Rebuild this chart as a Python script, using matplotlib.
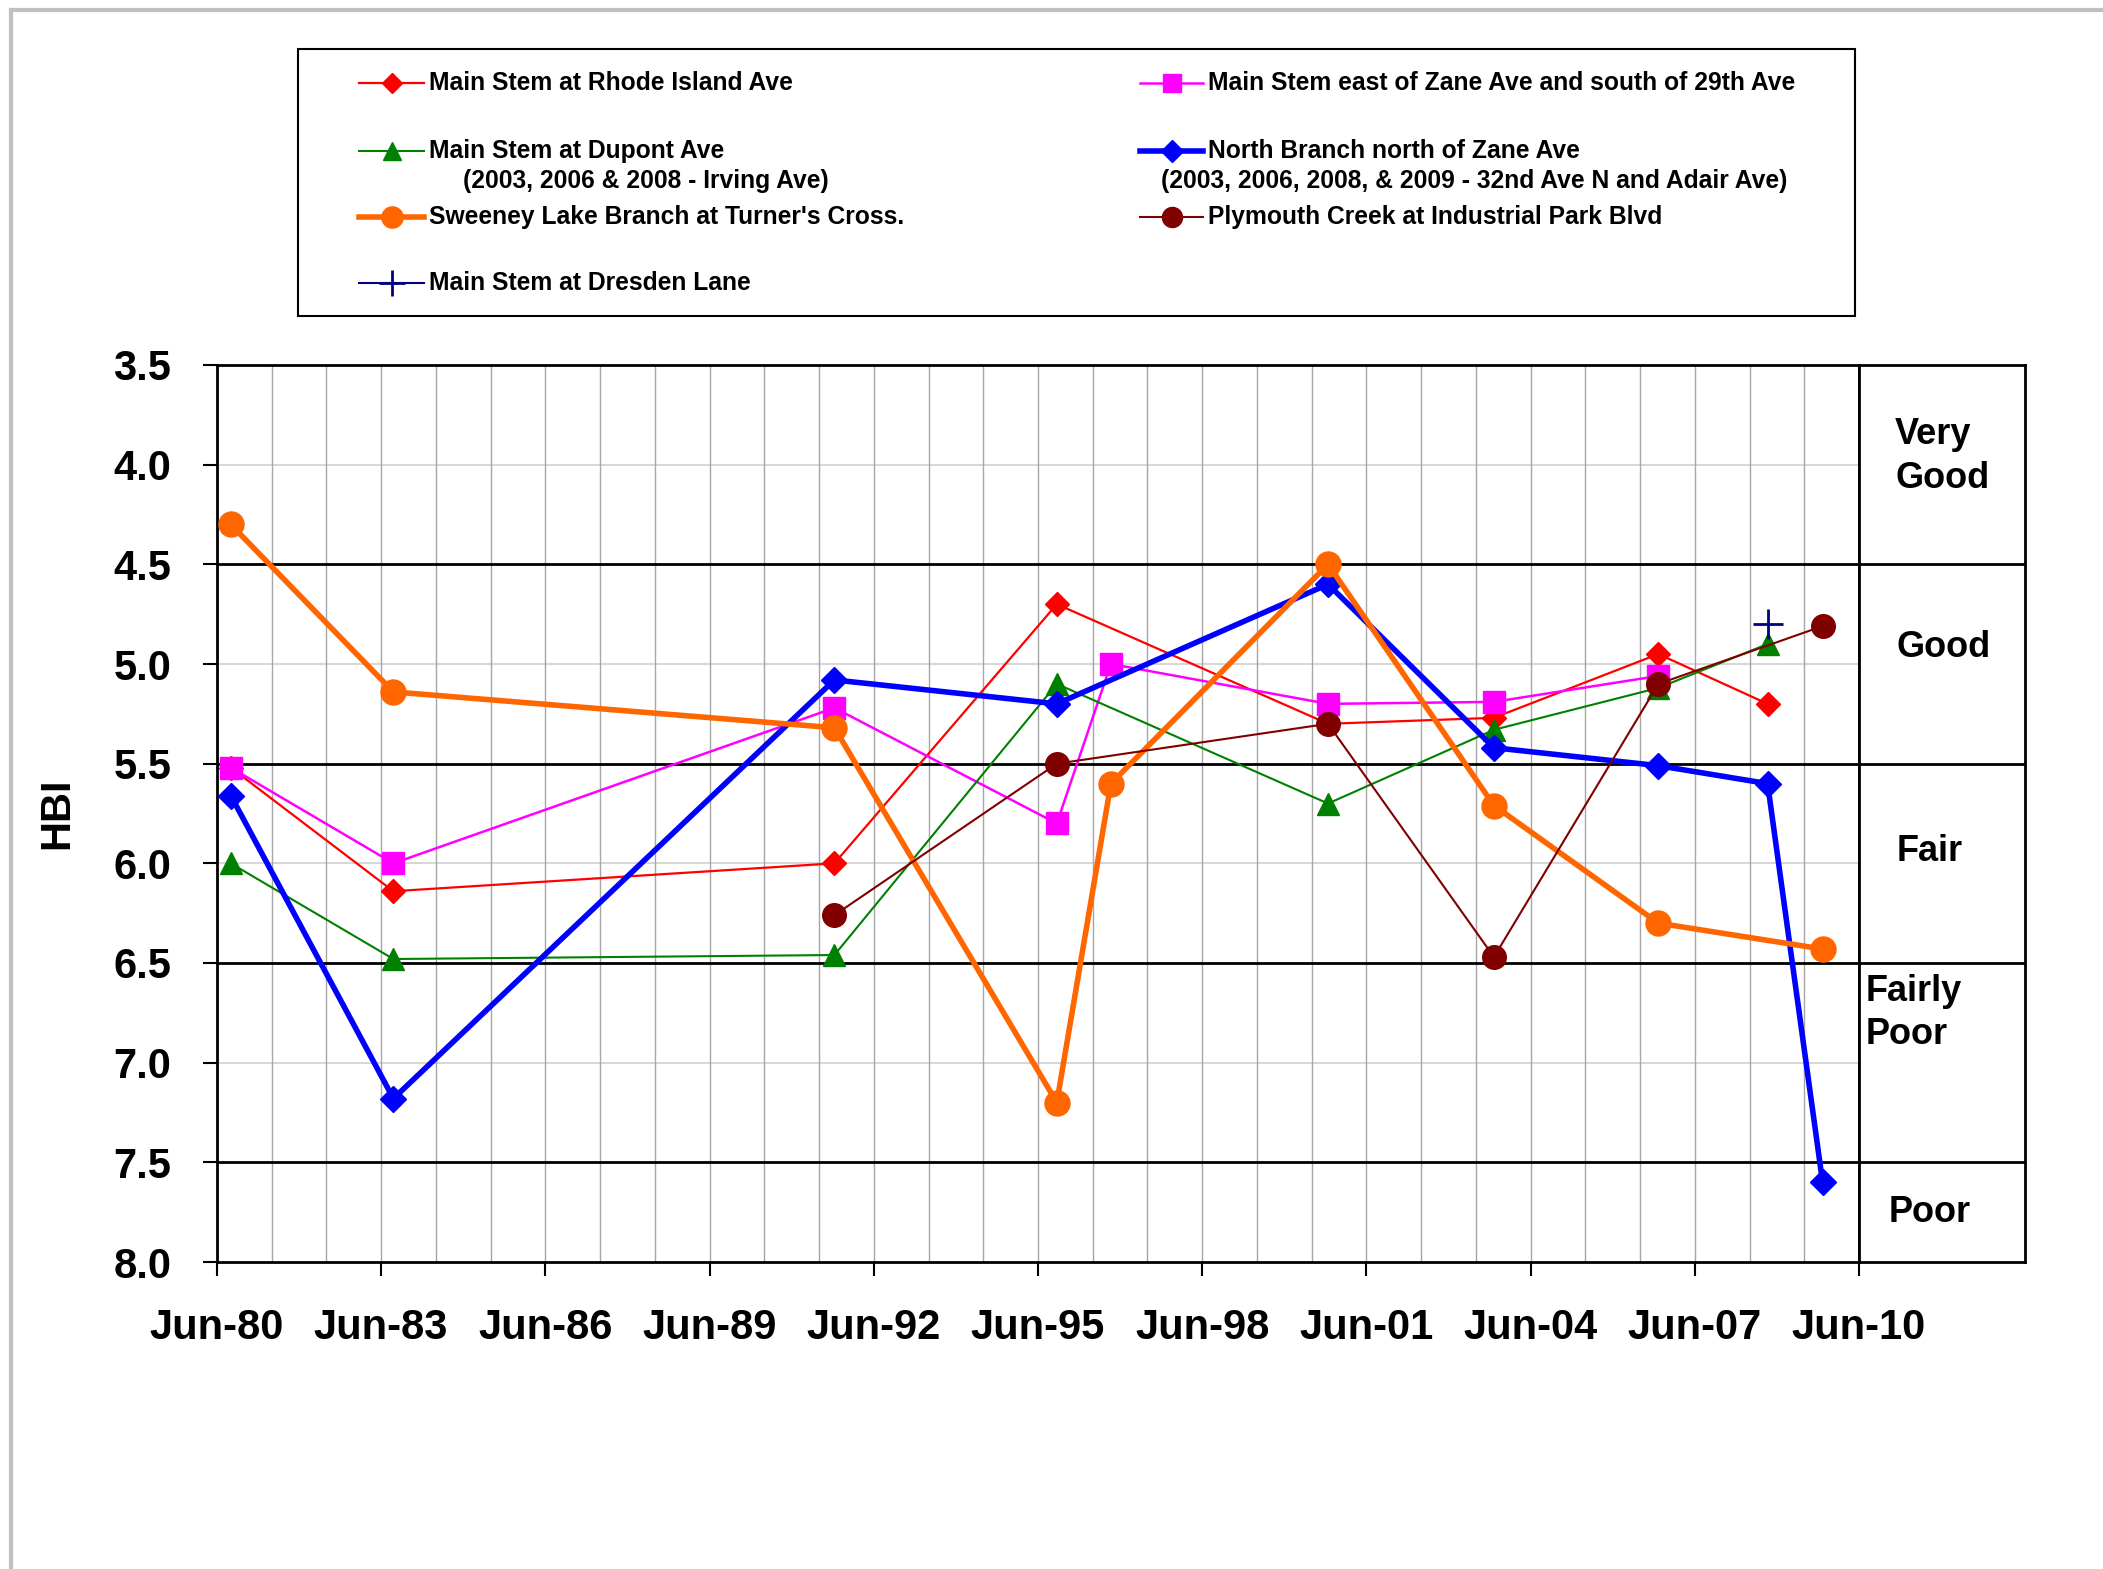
import matplotlib
matplotlib.use('Agg')
import matplotlib.pyplot as plt
import matplotlib.dates as mdates
import matplotlib.transforms as mtransforms
from matplotlib.lines import Line2D
from matplotlib.patches import Rectangle
from matplotlib.ticker import FormatStrFormatter, MultipleLocator
import pandas as pd

plt.rcParams['font.family'] = ['Liberation Sans', 'DejaVu Sans']
plt.rcParams['font.weight'] = 'bold'

# sampling dates (shared by all sites)
dates = pd.to_datetime(['1980-09-01', '1983-08-22', '1991-09-12', '1995-10-05', '1996-09-30',
                        '2000-09-18', '2003-09-30', '2006-10-01', '2008-09-29', '2009-10-01'])

# HBI values per site, None = not sampled that year
rhode_island = [5.52, 6.14, 6.00, 4.70, None, 5.30, 5.27, 4.95, 5.20, None]
zane_29th = [5.52, 6.00, 5.22, 5.80, 5.00, 5.20, 5.19, 5.06, None, None]
dupont = [6.00, 6.48, 6.46, 5.10, None, 5.70, 5.33, 5.12, 4.90, None]
north_branch = [5.66, 7.18, 5.08, 5.20, None, 4.60, 5.42, 5.51, 5.60, 7.60]
sweeney = [4.30, 5.14, 5.32, 7.20, 5.60, 4.50, 5.71, 6.30, None, 6.43]
plymouth = [None, None, 6.26, 5.50, None, 5.30, 6.47, 5.10, None, 4.81]
dresden = [None, None, None, None, None, None, None, None, 4.80, None]

series = [rhode_island, zane_29th, dupont, north_branch, sweeney, plymouth, dresden]
labels = ['Main Stem at Rhode Island Ave',
          'Main Stem east of Zane Ave and south of 29th Ave',
          'Main Stem at Dupont Ave',
          'North Branch north of Zane Ave',
          "Sweeney Lake Branch at Turner's Cross.",
          'Plymouth Creek at Industrial Park Blvd',
          'Main Stem at Dresden Lane']
sublabels = {2: '(2003, 2006 & 2008 - Irving Ave)',
             3: '(2003, 2006, 2008, & 2009 - 32nd Ave N and Adair Ave)'}

rating_lines = [4.5, 5.5, 6.5, 7.5]
gray_lines = [4.0, 5.0, 6.0, 7.0]
rating_names = ['Very\nGood', 'Good', 'Fair', 'Fairly\nPoor', 'Poor']
rating_y = [3.96, 4.915, 5.94, 6.75, 7.75]

# styles: color, marker, markersize, linewidth
styles = [('#FF0000', 'D', 12.5, 1.6),
          ('#FF00FF', 's', 16, 1.8),
          ('#008000', '^', 16, 1.5),
          ('#0000FF', 'D', 13, 4),
          ('#FF6600', 'o', 18, 4),
          ('#800000', 'o', 17, 1.5),
          ('#000080', '+', 22, 1.5)]

W, H = 2103, 1569
fig = plt.figure(figsize=(W / 100, H / 100), dpi=100)
bottom = 1 - 1262 / H
height = (1262 - 365) / H
ax = fig.add_axes([217 / W, bottom, (1859 - 217) / W, height])
rax = fig.add_axes([1859 / W, bottom, (2025 - 1859) / W, height], sharey=ax)

for vals, (c, m, ms, lw) in zip(series, styles):
    xs = [d for d, v in zip(dates, vals) if v is not None]
    ys = [v for v in vals if v is not None]
    ax.plot(xs, ys, color=c, lw=lw, marker=m, ms=ms, mfc=c, mec=c,
            mew=2 if m == '+' else 1, zorder=3)

ax.set_ylim(8.0, 3.5)
ax.set_xlim(pd.Timestamp('1980-06-01'), pd.Timestamp('2010-06-01'))
ax.yaxis.set_major_locator(MultipleLocator(0.5))
ax.yaxis.set_major_formatter(FormatStrFormatter('%.1f'))
ax.xaxis.set_major_locator(mdates.YearLocator(3, month=6, day=1))
ax.xaxis.set_minor_locator(mdates.YearLocator(1, month=6, day=1))
ax.xaxis.set_major_formatter(mdates.DateFormatter('%b-%y'))
ax.grid(True, which='both', axis='x', color='#A6A6A6', lw=1, zorder=0)
ax.tick_params(axis='x', which='minor', length=0)
ax.tick_params(axis='both', which='major', labelsize=30, length=10, width=1.5, pad=23)

for y in gray_lines:
    ax.axhline(y, color='#D0D0D0', lw=1.2, zorder=1)
for y in rating_lines:
    ax.axhline(y, color='black', lw=2, zorder=2)
    rax.axhline(y, color='black', lw=2)

for a in (ax, rax):
    for s in a.spines.values():
        s.set_linewidth(2)
        s.set_color('black')
rax.tick_params(left=False, labelleft=False, bottom=False, labelbottom=False)
rax.set_xlim(0, 1)

ax.set_ylabel('HBI', fontsize=30, fontweight='bold')
ax.yaxis.set_label_coords(-0.085, 0.5)

# rating band labels
tr = mtransforms.blended_transform_factory(rax.transAxes, rax.transData)
rating_x = [(0.217, 'left'), (0.512, 'center'), (0.428, 'center'), (0.042, 'left'), (0.428, 'center')]
for name, y, (x, ha) in zip(rating_names, rating_y, rating_x):
    rax.text(x, y, name, transform=tr, fontsize=26, fontweight='bold', ha=ha, va='center',
             linespacing=1.32)

# legend drawn in figure pixels
fig.add_artist(Rectangle((298 / W, 1 - 316 / H), (1855 - 298) / W, (316 - 49) / H,
                         transform=fig.transFigure, fill=False, ec='black', lw=1.5))
cols = [(359, 424, 429), (1140, 1203, 1208)]
rows = [83, 151, 217, 283]
order = [(0, 0, 0), (2, 0, 1), (4, 0, 2), (6, 0, 3), (1, 1, 0), (3, 1, 1), (5, 1, 2)]
for idx, ci, ri in order:
    c, m, ms, lw = styles[idx]
    x0, x1, xt = cols[ci]
    y = 1 - rows[ri] / H
    fig.add_artist(Line2D([x0 / W, (x0 + x1) / 2 / W, x1 / W], [y, y, y], transform=fig.transFigure,
                          color=c, lw=lw, marker=m, ms=ms * 0.85, mfc=c, mec=c, markevery=[1],
                          mew=2 if m == '+' else 1))
    fig.text(xt / W, y, labels[idx], fontsize=17.7, fontweight='bold', va='center')
fig.text(463 / W, 1 - 181 / H, sublabels[2], fontsize=17.7, fontweight='bold', va='center')
fig.text(1161 / W, 1 - 181 / H, sublabels[3], fontsize=17.7, fontweight='bold', va='center')

# outer chart border (only top and left visible)
fig.add_artist(Line2D([11 / W, 1], [1 - 10 / H, 1 - 10 / H], transform=fig.transFigure,
                      color='#C0C0C0', lw=3))
fig.add_artist(Line2D([11 / W, 11 / W], [0, 1 - 10 / H], transform=fig.transFigure,
                      color='#C0C0C0', lw=3))

fig.savefig('out.png', dpi=100)
